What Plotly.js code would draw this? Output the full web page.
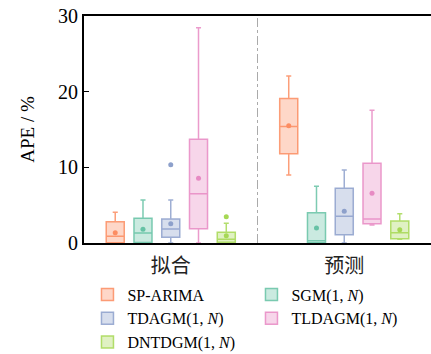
<!DOCTYPE html>
<html>
<head>
<meta charset="utf-8">
<script src="https://cdn.plot.ly/plotly-3.0.1.min.js"></script>
<style>html,body{margin:0;padding:0;background:#fff;}</style>
</head>
<body>
<div id="chart" style="width:431px;height:354px;"></div>
<script>
// categories
const categories = ['拟合', '预测'];
const seriesNames = ['SP-ARIMA', 'SGM(1, <i>N</i>)', 'TDAGM(1, <i>N</i>)', 'TLDAGM(1, <i>N</i>)', 'DNTDGM(1, <i>N</i>)'];
const seriesColors = ['252,141,98', '102,194,165', '141,160,203', '231,138,195', '166,216,84'];

// per series: [拟合, 预测]
const lowerFence = [[0, 8.98], [0, 0], [0, 0], [0, 2.38], [0, 0.49]];
const q1Vals     = [[0.02, 11.8], [0.05, 0.02], [0.75, 1.1], [1.89, 2.55], [0.1, 0.57]];
const medianVals = [[0.88, 15.4], [1.32, 0.3], [1.85, 3.52], [6.51, 3.17], [0.5, 1.36]];
const q3Vals     = [[2.8, 19.1], [3.26, 4.0], [3.17, 7.22], [13.7, 10.53], [1.41, 2.9]];
const upperFence = [[4.05, 22.06], [5.68, 7.49], [5.68, 9.64], [28.45, 17.53], [2.6, 3.87]];
const meanVals   = [[1.36, 15.5], [1.81, 1.98], [2.55, 4.19], [8.55, 6.56], [0.95, 1.76]];
const outliers   = [[[], []], [[], []], [[10.35], []], [[], []], [[3.47], []]];

const traces = seriesNames.map((name, i) => ({
  type: 'box',
  name: name,
  x: categories,
  q1: q1Vals[i],
  median: medianVals[i],
  q3: q3Vals[i],
  lowerfence: lowerFence[i],
  upperfence: upperFence[i],
  y: categories.map((c, j) => [meanVals[i][j]].concat(outliers[i][j])),
  boxpoints: 'all',
  jitter: 0,
  pointpos: 0,
  boxmean: false,
  whiskerwidth: 0.28,
  fillcolor: 'rgba(' + seriesColors[i] + ',0.35)',
  line: {color: 'rgba(' + seriesColors[i] + ',0.85)', width: 1.5},
  marker: {color: 'rgb(' + seriesColors[i] + ')', size: 5},
  hoverinfo: 'skip'
}));

const layout = {
  width: 431,
  height: 354,
  margin: {l: 84, r: 0, t: 16, b: 111, autoexpand: false},
  paper_bgcolor: '#fff',
  plot_bgcolor: '#fff',
  boxmode: 'group',
  boxgap: 0.2,
  boxgroupgap: 0.35,
  font: {family: 'Liberation Serif, "Noto Sans CJK SC", serif', color: '#000', size: 15},
  xaxis: {
    type: 'category',
    range: [-0.5, 1.5],
    showline: true,
    linewidth: 2,
    linecolor: '#000',
    mirror: true,
    ticks: '',
    ticklabelstandoff: 4,
    showgrid: false,
    zeroline: false,
    tickfont: {family: '"Noto Sans CJK SC", sans-serif', size: 20, color: '#222'}
  },
  yaxis: {
    range: [0, 30],
    dtick: 10,
    ticks: 'inside',
    ticklen: 5,
    tickwidth: 1.5,
    tickcolor: '#000',
    showline: true,
    linewidth: 2,
    linecolor: '#000',
    showgrid: false,
    zeroline: false,
    tickfont: {family: 'Liberation Serif, serif', size: 20, color: '#000'},
    title: {text: 'APE / %', font: {family: 'Liberation Serif, serif', size: 19, color: '#000'}, standoff: 18}
  },
  shapes: [{
    type: 'line', xref: 'x', yref: 'paper', x0: 0.5, x1: 0.5, y0: 0, y1: 1,
    line: {color: '#aaa', width: 1, dash: 'dashdot'}
  }],
  showlegend: true,
  legend: {
    orientation: 'h',
    x: 0.01, xanchor: 'left',
    y: -0.152, yanchor: 'top',
    entrywidth: 119,
    traceorder: 'normal',
    font: {family: 'Liberation Serif, serif', size: 16, color: '#000'},
    bgcolor: 'rgba(0,0,0,0)'
  }
};

Plotly.newPlot('chart', traces, layout, {displayModeBar: false, staticPlot: true});
</script>
</body>
</html>
